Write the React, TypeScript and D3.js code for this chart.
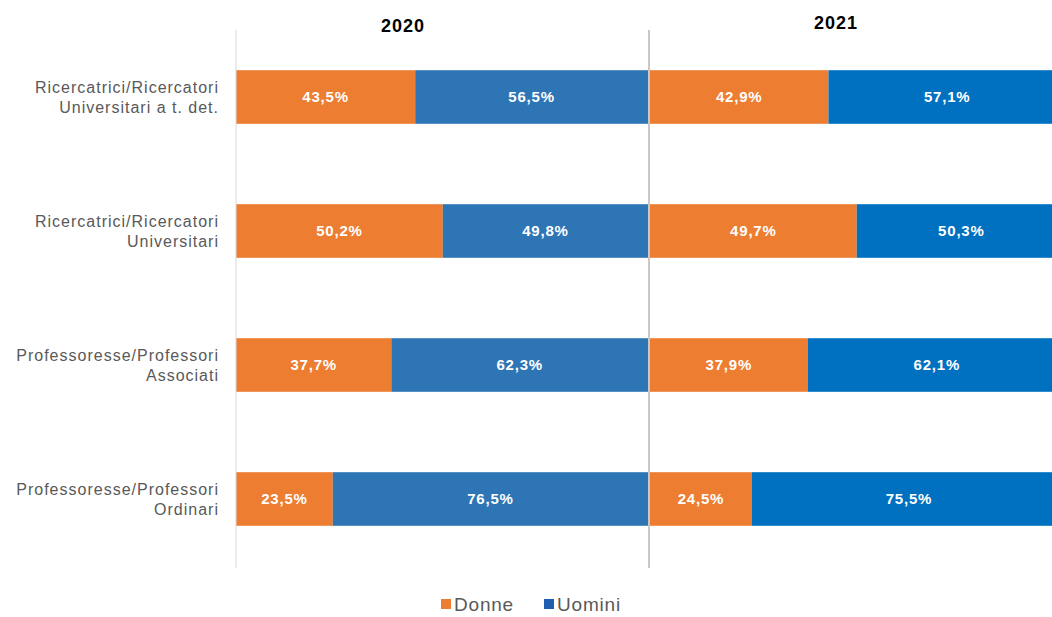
import React from "react";
import * as d3 from "d3";

const categories = [
  ["Ricercatrici/Ricercatori", "Universitari a t. det."],
  ["Ricercatrici/Ricercatori", "Universitari"],
  ["Professoresse/Professori", "Associati"],
  ["Professoresse/Professori", "Ordinari"],
];
const years = ["2020", "2021"];
const donne2020 = [43.5, 50.2, 37.7, 23.5];
const uomini2020 = [56.5, 49.8, 62.3, 76.5];
const donne2021 = [42.9, 49.7, 37.9, 24.5];
const uomini2021 = [57.1, 50.3, 62.1, 75.5];
const seriesNames = ["Donne", "Uomini"];

const W = 1052;
const H = 617;
const ORANGE = "#ED7D31";
const BLUE20 = "#2E75B6";
const BLUE21 = "#0070C0";

export default function App() {
  const y = d3
    .scaleBand<number>()
    .domain(d3.range(categories.length))
    .range([30, 566])
    .paddingInner(0.6)
    .paddingOuter(0.3);

  const panels = [
    { year: years[0], x0: 236, x1: 648, d: donne2020, u: uomini2020, blue: BLUE20, titleX: 403, titleY: 32 },
    { year: years[1], x0: 650, x1: 1066, d: donne2021, u: uomini21Fix(uomini2021), blue: BLUE21, titleX: 836, titleY: 29 },
  ];

  function uomini21Fix(a: number[]) {
    return a;
  }

  const fmt = (v: number) => v.toFixed(1).replace(".", ",") + "%";

  return (
    <svg
      width={W}
      height={H}
      style={{ position: "absolute", left: 0, top: 0, background: "#fff" }}
      fontFamily="'Liberation Sans', Arial, sans-serif"
    >
      <rect width={W} height={H} fill="#fff" />
      {panels.map((p, pi) => {
        const x = d3.scaleLinear().domain([0, 100]).range([p.x0, p.x1]);
        return (
          <g key={pi}>
            {categories.map((_, i) => {
              const yy = y(i)!;
              const bh = y.bandwidth();
              const xd = x(p.d[i]);
              return (
                <g key={i}>
                  <rect x={x(0)} y={yy} width={xd - x(0)} height={bh} fill={ORANGE} />
                  <rect x={xd} y={yy} width={x(p.d[i] + p.u[i]) - xd} height={bh} fill={p.blue} />
                  <text
                    x={(x(0) + xd) / 2}
                    y={yy + bh / 2}
                    dy="0.35em"
                    textAnchor="middle"
                    fill="#fff"
                    fontWeight="bold"
                    fontSize={15}
                    letterSpacing={0.8}
                  >
                    {fmt(p.d[i])}
                  </text>
                  <text
                    x={(xd + x(p.d[i] + p.u[i])) / 2}
                    y={yy + bh / 2}
                    dy="0.35em"
                    textAnchor="middle"
                    fill="#fff"
                    fontWeight="bold"
                    fontSize={15}
                    letterSpacing={0.8}
                  >
                    {fmt(p.u[i])}
                  </text>
                </g>
              );
            })}
            <line
              x1={p.x0 - (pi === 0 ? 0 : 1)}
              x2={p.x0 - (pi === 0 ? 0 : 1)}
              y1={30}
              y2={568}
              stroke={pi === 0 ? "#d9d9d9" : "#c8c8c8"}
              strokeWidth={pi === 0 ? 1 : 2}
            />
            <text
              x={p.titleX}
              y={p.titleY}
              textAnchor="middle"
              fontWeight="bold"
              fontSize={18}
              letterSpacing={1}
              fill="#000"
            >
              {p.year}
            </text>
          </g>
        );
      })}
      {categories.map((lines, i) => {
        const cy = y(i)! + y.bandwidth() / 2;
        return (
          <text key={i} x={219} y={cy - 10} textAnchor="end" fill="#595959" fontSize={16} letterSpacing={1}>
            {lines.map((l, j) => (
              <tspan key={j} x={219} dy={j === 0 ? "0.35em" : 20}>
                {l}
              </tspan>
            ))}
          </text>
        );
      })}
      {seriesNames.map((s, i) => {
        const lx = i === 0 ? 441 : 544;
        return (
          <g key={s}>
            <rect x={lx} y={599} width={10} height={10} fill={i === 0 ? ORANGE : "#1F5FAF"} />
            <text x={lx + 13} y={604} dy="0.35em" fill="#595959" fontSize={19} letterSpacing={0.8}>
              {s}
            </text>
          </g>
        );
      })}
    </svg>
  );
}
